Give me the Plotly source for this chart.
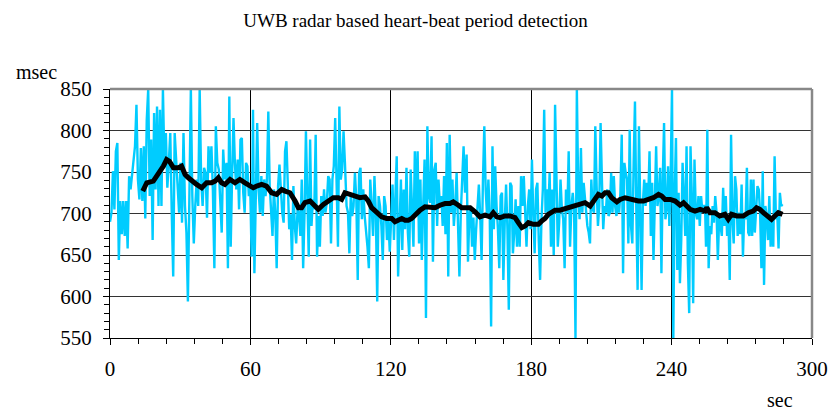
import numpy as np
import plotly.graph_objects as go

# ---- heart-beat periods (msec), in six consecutive time segments ----
seg_times = [(0.0, 49.0), (49.8, 100.4), (101.1, 151.7), (152.4, 203.0), (204.0, 254.3), (254.7, 287.4)]

period_1 = [690, 701, 751, 705, 775, 785, 644, 715, 675, 715, 673, 715, 658, 745, 729, 745, 769, 781,
            831, 741, 717, 779, 715, 781, 694, 813, 850, 721, 789, 668, 821, 729, 829, 709, 825, 709,
            850, 761, 797, 731, 761, 797, 701, 624, 797, 761, 733, 701, 761, 689, 797, 709, 677, 594,
            721, 850, 721, 664, 709, 741, 709, 850, 741, 709, 755, 749, 695, 781, 749, 781, 727, 634,
            805, 761, 753, 705, 677, 777, 741]
period_2 = [761, 634, 841, 660, 745, 815, 761, 729, 765, 705, 789, 791, 725, 701, 761, 757, 721, 733,
            648, 825, 628, 737, 809, 729, 701, 745, 697, 741, 721, 741, 823, 733, 697, 673, 729, 701,
            634, 733, 759, 721, 701, 689, 775, 787, 741, 681, 699, 644, 733, 685, 664, 705, 701, 673,
            741, 634, 701, 799, 721, 648, 789, 685, 717, 705, 795, 648, 697, 660, 721, 697, 729, 701,
            713, 745, 741, 664, 741, 757, 815, 741, 660, 829, 741, 753, 799, 761]
period_3 = [709, 701, 652, 721, 697, 709, 749, 717, 620, 749, 755, 693, 729, 697, 681, 660, 634, 741,
            709, 673, 745, 701, 594, 721, 709, 685, 644, 721, 709, 668, 693, 654, 693, 735, 668, 737,
            769, 624, 693, 741, 656, 729, 681, 755, 677, 648, 753, 701, 660, 775, 701, 775, 664, 741,
            644, 709, 765, 574, 805, 721, 713, 793, 642, 753, 761, 685, 741, 709, 721, 685, 745, 675,
            785, 624, 795, 701, 741, 685, 709, 749, 689, 624, 701, 745, 781, 725]
period_4 = [771, 642, 697, 709, 660, 695, 644, 681, 709, 735, 697, 644, 741, 805, 729, 697, 741, 697,
            564, 781, 681, 757, 709, 681, 634, 721, 725, 620, 689, 735, 681, 584, 737, 733, 652, 677,
            717, 660, 709, 660, 745, 709, 745, 693, 660, 709, 729, 681, 765, 697, 652, 729, 737, 668,
            620, 693, 729, 825, 701, 729, 701, 749, 660, 729, 650, 831, 733, 660, 689, 741, 705, 693,
            634, 729, 701, 775, 660, 709, 725, 701, 550, 850, 729, 693, 779, 701, 737, 717]
period_5 = [685, 677, 664, 741, 705, 701, 805, 733, 685, 709, 809, 741, 681, 709, 701, 729, 697, 701,
            749, 701, 745, 709, 697, 717, 701, 725, 795, 628, 761, 749, 741, 664, 801, 685, 664, 761,
            835, 705, 608, 805, 709, 608, 713, 741, 709, 737, 715, 775, 673, 737, 644, 729, 781, 709,
            721, 755, 628, 741, 809, 693, 705, 757, 685, 745, 850, 550, 723, 791, 632, 725, 616, 668,
            761, 721, 673, 781, 640, 580, 781, 721, 592, 765, 701, 693, 721, 685, 721, 701, 709, 709]
period_6 = [660, 801, 634, 685, 675, 709, 689, 721, 701, 644, 697, 685, 673, 731, 685, 721, 673, 697,
            620, 795, 693, 664, 745, 729, 673, 701, 675, 735, 648, 701, 693, 755, 677, 673, 741, 673,
            741, 677, 711, 733, 729, 701, 634, 751, 614, 709, 697, 668, 721, 660, 693, 660, 769, 693,
            701, 658, 725, 709, 711]
period_segments = [period_1, period_2, period_3, period_4, period_5, period_6]

# ---- smoothed (moving average) curve ----
avg_sec = [14.0, 15.7, 18.5, 20.7, 22.8, 24.2, 25.4, 27.1, 29.2, 30.6, 32.1, 33.5, 34.9, 37.0, 39.2,
           41.3, 43.4, 44.9, 46.3, 47.7, 49.1, 51.3, 53.4, 55.5, 57.7, 59.8, 61.2, 62.7, 64.8, 66.9,
           69.1, 71.2, 73.4, 74.8, 76.9, 79.1, 80.5, 81.9, 83.3, 85.5, 87.6, 89.0, 91.2, 93.3, 95.4,
           97.6, 99.0, 100.4, 102.6, 104.7, 106.8, 109.0, 110.4, 111.8, 114.0, 116.1, 118.2, 120.4,
           121.8, 123.2, 124.7, 126.1, 127.5, 128.9, 130.3, 132.5, 134.6, 136.8, 138.9, 141.0, 143.2,
           145.3, 146.7, 148.9, 150.3, 151.7, 153.9, 156.0, 158.1, 160.3, 162.4, 163.8, 165.3, 166.7,
           168.8, 171.0, 173.1, 174.5, 176.0, 177.4, 178.8, 180.9, 183.1, 184.5, 185.9, 187.3, 188.8,
           190.2, 192.3, 194.5, 195.9, 198.0, 199.5, 200.9, 203.0, 205.2, 207.3, 208.7, 210.2, 211.6,
           213.0, 214.4, 216.6, 218.0, 220.1, 222.3, 224.4, 225.8, 228.0, 230.1, 232.2, 234.4, 235.8,
           237.2, 239.4, 241.5, 243.6, 245.1, 246.5, 247.9, 250.0, 252.2, 254.3, 255.0, 256.4, 258.5,
           260.6, 262.8, 264.2, 265.6, 267.8, 269.2, 270.6, 272.8, 274.9, 276.3, 277.7, 279.2, 281.3,
           282.7, 284.1, 285.6, 287.4]
avg_msec = [727, 737, 739, 747, 757, 765, 763, 755, 755, 757, 747, 743, 739, 735, 731,
            737, 737, 739, 743, 737, 735, 741, 737, 741, 737, 733, 731, 733, 735, 733,
            725, 723, 729, 727, 725, 715, 707, 707, 713, 715, 709, 705, 711, 715, 719,
            719, 717, 725, 723, 721, 719, 720, 715, 707, 701, 696, 694, 694,
            690, 692, 694, 692, 692, 694, 698, 704, 708, 708, 707, 710, 712,
            712, 714, 710, 707, 707, 707, 702, 696, 698, 696, 701, 696, 695,
            697, 697, 695, 689, 683, 685, 689, 687, 687, 691, 694, 699, 701,
            704, 704, 706, 708, 709, 711, 711, 713, 709, 716, 723, 721, 725,
            725, 719, 714, 717, 719, 717, 715, 715, 715, 717, 719, 723, 721,
            717, 717, 715, 710, 713, 709, 705, 703, 705, 703, 707, 701, 701,
            697, 699, 693, 699, 697, 697, 697, 701, 703, 707, 705, 701, 697,
            693, 697, 701, 699]

x_ticks = [0, 60, 120, 180, 240, 300]
y_ticks = [550, 600, 650, 700, 750, 800, 850]

# build sample times for the raw periods
raw_t = []
raw_v = []
for (t0, t1), seg in zip(seg_times, period_segments):
    raw_t.extend(np.linspace(t0, t1, len(seg)).tolist())
    raw_v.extend(seg)

serif = "Liberation Serif, Times New Roman, serif"

fig = go.Figure()
fig.add_trace(go.Scatter(x=raw_t, y=raw_v, mode="lines",
                         line=dict(color="#00CCFF", width=2.4), showlegend=False))
fig.add_trace(go.Scatter(x=avg_sec, y=avg_msec, mode="lines",
                         line=dict(color="#000000", width=5), showlegend=False))

fig.update_layout(
    width=831, height=410,
    margin=dict(l=110, r=19, t=89, b=72, autoexpand=False),
    paper_bgcolor="white", plot_bgcolor="white",
    title=dict(text="UWB radar based heart-beat period detection", x=0.5, xanchor="center",
               y=1 - 20 / 410, yanchor="middle", font=dict(family=serif, size=19, color="black")),
    font=dict(family=serif, color="black"),
)
fig.update_xaxes(range=[0, 300], tickvals=x_ticks, ticktext=[str(v) for v in x_ticks],
                 showgrid=True, gridcolor="#000000", gridwidth=1,
                 showline=True, linecolor="black", linewidth=1,
                 ticks="outside", ticklen=6, tickcolor="black",
                 minor=dict(dtick=12, ticks="outside", ticklen=5, tickcolor="black", showgrid=False),
                 ticklabelstandoff=6,
                 tickfont=dict(family=serif, size=21, color="black"), zeroline=False)
fig.update_yaxes(range=[550, 850], tickvals=y_ticks, ticktext=[str(v) for v in y_ticks],
                 showgrid=True, gridcolor="#333333", gridwidth=1,
                 showline=True, linecolor="black", linewidth=1,
                 ticks="outside", ticklen=6, tickcolor="black",
                 minor=dict(dtick=10, ticks="outside", ticklen=5, tickcolor="black", showgrid=False),
                 ticklabelstandoff=7,
                 tickfont=dict(family=serif, size=21, color="black"), zeroline=False)

# gray frame on top and right
fig.add_shape(type="line", xref="paper", yref="paper", x0=0, x1=1, y0=1, y1=1,
              line=dict(color="#888888", width=2.5))
fig.add_shape(type="line", xref="paper", yref="paper", x0=1, x1=1, y0=0, y1=1,
              line=dict(color="#888888", width=2.5))

fig.add_annotation(text="msec", xref="paper", yref="paper", x=-0.104, y=1.07,
                   xanchor="center", yanchor="middle", showarrow=False,
                   font=dict(family=serif, size=20, color="black"))
fig.add_annotation(text="sec", xref="paper", yref="paper", x=0.955, y=-0.25,
                   xanchor="center", yanchor="middle", showarrow=False,
                   font=dict(family=serif, size=20, color="black"))

fig.write_html("out.html", config={"displayModeBar": False},
               post_script="document.body.style.margin='0';document.body.style.overflow='hidden';")
